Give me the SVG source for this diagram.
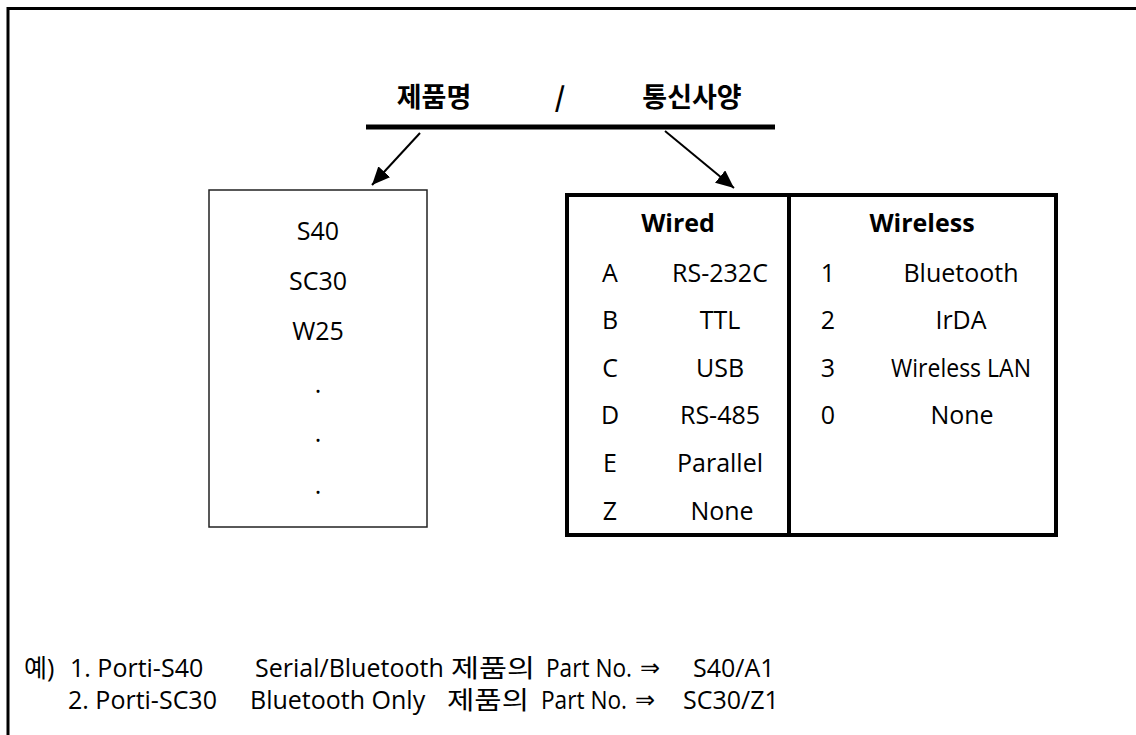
<svg xmlns="http://www.w3.org/2000/svg" width="1136" height="735" viewBox="0 0 1136 735">
<style>
.t{font-family:"Open Sans","Noto Sans CJK KR",sans-serif;font-size:25px;fill:#000}
.c{text-anchor:middle}
.b{font-weight:bold}
.title{font-family:"Noto Sans CJK KR",sans-serif;font-size:27px;font-weight:bold;fill:#000}
.sym{font-family:"DejaVu Sans",sans-serif;font-size:24px;fill:#000}
</style>
<defs>
<marker id="ah" markerUnits="userSpaceOnUse" markerWidth="20" markerHeight="16" refX="18" refY="8" orient="auto">
<path d="M0,0 L18,8 L0,16 Z" fill="#000"/>
</marker>
</defs>
<rect width="1136" height="735" fill="#fff"/>
<path d="M8,735 V8.5 H1136" fill="none" stroke="#000" stroke-width="3"/>
<g id="title">
<text class="title c" x="434" y="107">제품명</text>
<text class="title c" x="560" y="107">/</text>
<text class="title c" x="692" y="107">통신사양</text>
<line x1="366" y1="127" x2="775" y2="127" stroke="#000" stroke-width="5"/>
</g>
<g id="connectors">
<line x1="420" y1="133" x2="372" y2="185" stroke="#000" stroke-width="2" marker-end="url(#ah)"/>
<line x1="665" y1="131" x2="734" y2="188" stroke="#000" stroke-width="2" marker-end="url(#ah)"/>
</g>
<g id="product-box">
<rect x="209" y="190" width="218" height="337" fill="none" stroke="#222" stroke-width="1.5"/>
<text class="t c" x="318" y="240">S40</text>
<text class="t c" x="318" y="290">SC30</text>
<text class="t c" x="318" y="340">W25</text>
<text class="t c" x="318" y="393">.</text>
<text class="t c" x="318" y="442">.</text>
<text class="t c" x="318" y="494">.</text>
</g>
<g id="spec-table">
<rect x="567" y="195" width="489" height="340" fill="none" stroke="#000" stroke-width="4"/>
<line x1="789" y1="195" x2="789" y2="535" stroke="#000" stroke-width="4"/>
<text class="t c b" x="678" y="232">Wired</text>
<text class="t c b" x="922" y="232">Wireless</text>
<text class="t c" x="610" y="282">A</text><text class="t c" x="720" y="282">RS-232C</text>
<text class="t c" x="610" y="329">B</text><text class="t c" x="720" y="329">TTL</text>
<text class="t c" x="610" y="377">C</text><text class="t c" x="720" y="377">USB</text>
<text class="t c" x="610" y="424">D</text><text class="t c" x="720" y="424">RS-485</text>
<text class="t c" x="610" y="472">E</text><text class="t c" x="720" y="472">Parallel</text>
<text class="t c" x="610" y="520">Z</text><text class="t c" x="722" y="520">None</text>
<text class="t c" x="828" y="282">1</text><text class="t c" x="961" y="282">Bluetooth</text>
<text class="t c" x="828" y="329">2</text><text class="t c" x="961" y="329">IrDA</text>
<text class="t c" x="828" y="377">3</text><text class="t" x="891" y="377" font-size="23" textLength="140" lengthAdjust="spacingAndGlyphs">Wireless LAN</text>
<text class="t c" x="828" y="424">0</text><text class="t c" x="962" y="424">None</text>
</g>
<g id="examples">
<text class="t" x="24" y="677">예)</text>
<text class="t" x="70" y="677">1. Porti-S40</text>
<text class="t" x="255" y="677">Serial/Bluetooth</text>
<text class="t" x="451" y="677" textLength="84" lengthAdjust="spacingAndGlyphs">제품의</text>
<text class="t" x="546" y="677" textLength="86" lengthAdjust="spacingAndGlyphs">Part No.</text>
<text class="sym" x="640" y="676">⇒</text>
<text class="t" x="693" y="677">S40/A1</text>
<text class="t" x="68" y="709">2. Porti-SC30</text>
<text class="t" x="250" y="709">Bluetooth Only</text>
<text class="t" x="447" y="709" textLength="82" lengthAdjust="spacingAndGlyphs">제품의</text>
<text class="t" x="541" y="709" textLength="86" lengthAdjust="spacingAndGlyphs">Part No.</text>
<text class="sym" x="635" y="708">⇒</text>
<text class="t" x="683" y="709">SC30/Z1</text>
</g>
</svg>
